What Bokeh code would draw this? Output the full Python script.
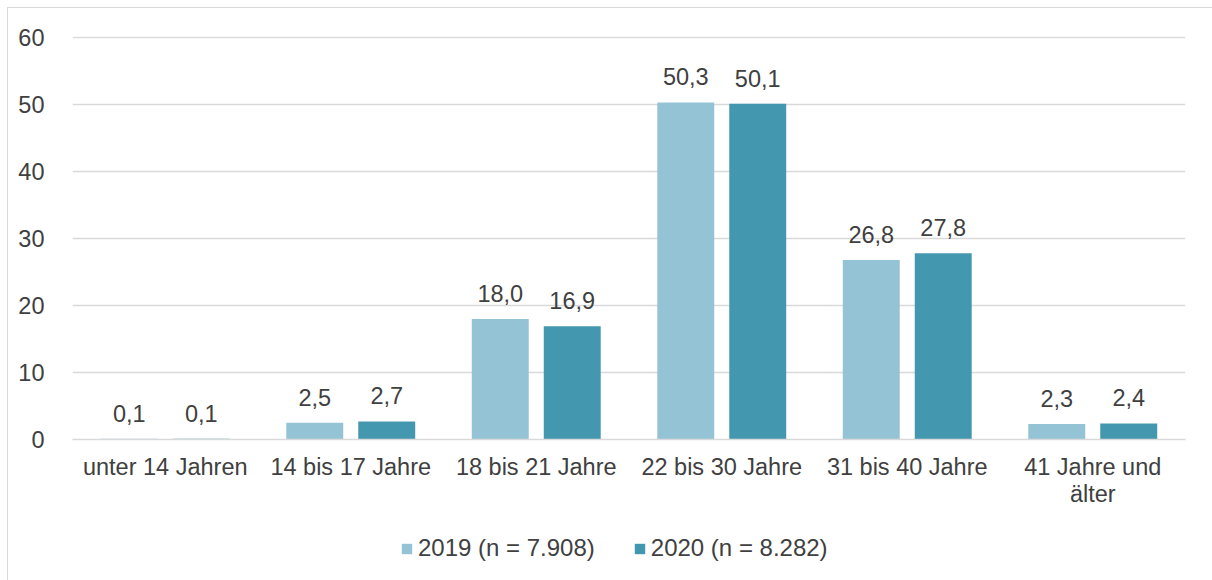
from bokeh.plotting import figure
from bokeh.layouts import column
from bokeh.models import (ColumnDataSource, Legend, LegendItem, LinearAxis,
                          FixedTicker, Range1d)
from bokeh.core.properties import value
from bokeh.embed import file_html
from bokeh.resources import INLINE

categories = ["unter 14 Jahren", "14 bis 17 Jahre", "18 bis 21 Jahre",
              "22 bis 30 Jahre", "31 bis 40 Jahre", "41 Jahre und älter"]
tick_line1 = ["unter 14 Jahren", "14 bis 17 Jahre", "18 bis 21 Jahre",
              "22 bis 30 Jahre", "31 bis 40 Jahre", "41 Jahre und"]
tick_line2 = ["", "", "", "", "", "älter"]
values_2019 = [0.1, 2.5, 18.0, 50.3, 26.8, 2.3]
values_2020 = [0.1, 2.7, 16.9, 50.1, 27.8, 2.4]
series_names = ["2019 (n = 7.908)", "2020 (n = 8.282)"]
y_ticks = [0, 10, 20, 30, 40, 50, 60]

FONT = "Liberation Sans"
FS = "23.5px"
TXT = "#404040"
C19 = "#93c3d4"
C20 = "#4398af"
OFF = 0.194
BW = 0.307

centers = [i + 0.5 for i in range(len(categories))]
src = ColumnDataSource(dict(
    cat=categories,
    x19=[c - OFF for c in centers],
    x20=[c + OFF for c in centers],
    v19=values_2019,
    v20=values_2020,
    l19=[f"{v:.1f}".replace(".", ",") for v in values_2019],
    l20=[f"{v:.1f}".replace(".", ",") for v in values_2020],
))

p = figure(x_range=Range1d(0, len(categories)), y_range=Range1d(0, 60.15),
           width=1204, height=512, output_backend="svg", toolbar_location=None,
           x_axis_location=None,
           min_border_left=64, min_border_right=27, min_border_top=28, min_border_bottom=81)
p.outline_line_color = None

r1 = p.vbar(x="x19", top="v19", width=BW, source=src, fill_color=C19, line_color=None)
r2 = p.vbar(x="x20", top="v20", width=BW, source=src, fill_color=C20, line_color=None)

for xc, col, top in [("x19", "l19", "v19"), ("x20", "l20", "v20")]:
    p.text(x=xc, y=top, text=col, source=src,
           text_align="center", text_baseline="bottom", y_offset=-17,
           text_font=value(FONT), text_font_size=FS, text_color=TXT)

p.xgrid.grid_line_color = None
p.ygrid.grid_line_color = "#d9d9d9"
p.ygrid.grid_line_width = 1.5
p.ygrid.ticker = y_ticks

p.yaxis.ticker = y_ticks
p.yaxis.axis_line_color = None
p.yaxis.major_tick_line_color = None
p.yaxis.minor_tick_line_color = None
p.yaxis.major_label_standoff = 22
p.yaxis.major_label_text_font = FONT
p.yaxis.major_label_text_font_size = FS
p.yaxis.major_label_text_color = TXT

def make_x(labels, standoff, line):
    ax = LinearAxis(ticker=FixedTicker(ticks=centers),
                    major_label_overrides={c: t for c, t in zip(centers, labels)})
    ax.major_tick_line_color = None
    ax.minor_tick_line_color = None
    ax.major_label_standoff = standoff
    ax.major_label_text_font = FONT
    ax.major_label_text_font_size = FS
    ax.major_label_text_color = TXT
    if line:
        ax.axis_line_color = "#d9d9d9"
        ax.axis_line_width = 1.5
    else:
        ax.axis_line_color = None
    p.add_layout(ax, "below")
    return ax

make_x(tick_line1, 8, True)
make_x(tick_line2, -8, False)

# legend strip (separate figure below the chart)
q = figure(x_range=Range1d(0, 1), y_range=Range1d(1000, 1001),
           width=1204, height=60, output_backend="svg", toolbar_location=None,
           x_axis_location=None, y_axis_location=None,
           min_border_left=0, min_border_right=0, min_border_top=0, min_border_bottom=0)
q.outline_line_color = None
q.grid.grid_line_color = None
k1 = q.vbar(x="x19", top="v19", width=BW, source=src, fill_color=C19, line_color=None)
k2 = q.vbar(x="x20", top="v20", width=BW, source=src, fill_color=C20, line_color=None)
legend = Legend(items=[LegendItem(label=series_names[0], renderers=[k1]),
                       LegendItem(label=series_names[1], renderers=[k2])],
                orientation="horizontal", location=(328, 18),
                label_text_font=FONT, label_text_font_size="24px", label_text_color=TXT,
                glyph_width=13, glyph_height=13, label_standoff=5, spacing=38,
                border_line_color=None, background_fill_alpha=0, margin=0, padding=0)
q.add_layout(legend, "center")

layout = column(p, q, spacing=0)
layout.styles = {"border-top": "1px solid #d9d9d9", "border-left": "1px solid #d9d9d9",
                 "margin-left": "7px", "margin-top": "7px"}

open("out.html", "w").write(file_html(layout, INLINE))
